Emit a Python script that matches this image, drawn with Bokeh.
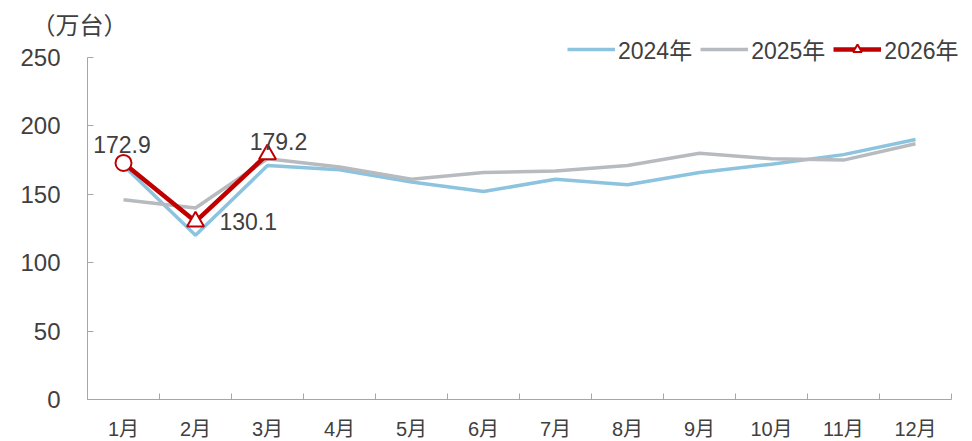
from bokeh.plotting import figure
from bokeh.models import (FixedTicker, Range1d, Legend, LegendItem, Label)
from bokeh.core.properties import value
from bokeh.embed import file_html
from bokeh.resources import INLINE

# ---- data ----
months = [1, 2, 3, 4, 5, 6, 7, 8, 9, 10, 11, 12]
month_labels = ["1月", "2月", "3月", "4月", "5月", "6月", "7月", "8月", "9月", "10月", "11月", "12月"]
sales_2024 = [171, 120, 171, 168, 159, 152, 161, 157, 166, 172, 179, 190]
sales_2025 = [146, 140, 176, 170, 161, 166, 167, 171, 180, 176, 175, 187]
sales_2026 = [172.9, 130.1, 179.2]
series_names = ["2024年", "2025年", "2026年"]
y_ticks = [0, 50, 100, 150, 200, 250]
y_max = 250
unit_label = "（万台）"

# ---- layout (pixels) ----
W, H = 972, 441
PX_LEFT, PX_RIGHT = 87, 951      # plot area x extents
PX_TOP, PX_BOTTOM = 57, 399      # plot area y extents
n = len(months)
xpu = (PX_RIGHT - PX_LEFT) / n
ypu = (PX_BOTTOM - PX_TOP) / y_max
x0 = months[0] - 0.5
x_start = x0 - PX_LEFT / xpu
x_end = x0 + (W - PX_LEFT) / xpu
y_start = -(H - PX_BOTTOM) / ypu
y_end = PX_BOTTOM / ypu

FONT = "Liberation Sans, Noto Sans CJK SC"
TXT = "#404040"
AX = "#A6A6A6"
BLUE = "#8CC4E0"
GRAY = "#B7BBBF"
RED = "#C00000"

p = figure(width=W, height=H, output_backend="svg", toolbar_location=None,
           x_range=Range1d(x_start, x_end), y_range=Range1d(y_start, y_end),
           min_border_left=0, min_border_right=0, min_border_top=0, min_border_bottom=0)
p.outline_line_color = None
p.xgrid.visible = False
p.ygrid.visible = False
p.background_fill_color = "white"
p.border_fill_color = "white"

# axes
boundaries = [m - 0.5 for m in months] + [months[-1] + 0.5]
p.xaxis.fixed_location = 0
p.xaxis.bounds = (boundaries[0], boundaries[-1])
p.xaxis.ticker = FixedTicker(ticks=months, minor_ticks=boundaries)
p.xaxis.major_label_overrides = {m: lab for m, lab in zip(months, month_labels)}
p.xaxis.major_tick_in = 0
p.xaxis.major_tick_out = 0
p.xaxis.minor_tick_in = 6
p.xaxis.minor_tick_out = 0
p.xaxis.minor_tick_line_color = AX
p.xaxis.axis_line_color = AX
p.xaxis.major_label_text_font = FONT
p.xaxis.major_label_text_font_size = "20px"
p.xaxis.major_label_text_color = TXT
p.xaxis.major_label_standoff = 18

p.yaxis.fixed_location = boundaries[0]
p.yaxis.bounds = (0, y_max)
p.yaxis.ticker = FixedTicker(ticks=y_ticks)
p.yaxis.minor_tick_line_color = None
p.yaxis.major_tick_in = 6
p.yaxis.major_tick_out = 0
p.yaxis.major_tick_line_color = AX
p.yaxis.axis_line_color = AX
p.yaxis.major_label_text_font = FONT
p.yaxis.major_label_text_font_size = "24px"
p.yaxis.major_label_text_color = TXT
p.yaxis.major_label_standoff = 27

# lines
r24 = p.line(months, sales_2024, line_color=BLUE, line_width=3.5)
r25 = p.line(months, sales_2025, line_color=GRAY, line_width=3.5)
m26 = months[:len(sales_2026)]
r26 = p.line(m26, sales_2026, line_color=RED, line_width=4.5)
rc = p.scatter(m26[:1], sales_2026[:1], marker="circle", size=16,
               fill_color="white", line_color=RED, line_width=2)
rt = p.scatter(m26[1:], sales_2026[1:], marker="triangle", size=17,
               fill_color="white", line_color=RED, line_width=2)

# data labels
offsets = [(-1.5, 18.5, "center"), (24, 0, "left"), (11, 13, "center")]
for (xo, yo, al), m, v in zip(offsets, m26, sales_2026):
    p.add_layout(Label(x=m, y=v, text=f"{v:.1f}", x_offset=xo, y_offset=yo,
                       text_align=al, text_baseline="middle",
                       text_font=FONT, text_font_size="23px", text_color=TXT))

# unit label
p.add_layout(Label(x=x0 + (79 - PX_LEFT) / xpu, y=(PX_BOTTOM - 23) / ypu, text=unit_label,
                   text_align="center", text_baseline="middle",
                   text_font="Noto Sans CJK SC", text_font_size="24px", text_color=TXT))

legend = Legend(items=[LegendItem(label=series_names[0], renderers=[r24]),
                       LegendItem(label=series_names[1], renderers=[r25]),
                       LegendItem(label=series_names[2], renderers=[r26, rt])],
                orientation="horizontal", location=(567, H - 66),
                label_text_font=FONT, label_text_font_size="23px", label_text_color=TXT,
                glyph_width=48, glyph_height=22, label_standoff=3, spacing=8,
                padding=0, margin=0, border_line_color=None, background_fill_alpha=0)
p.add_layout(legend)

open("out.html", "w").write(file_html(p, INLINE))
